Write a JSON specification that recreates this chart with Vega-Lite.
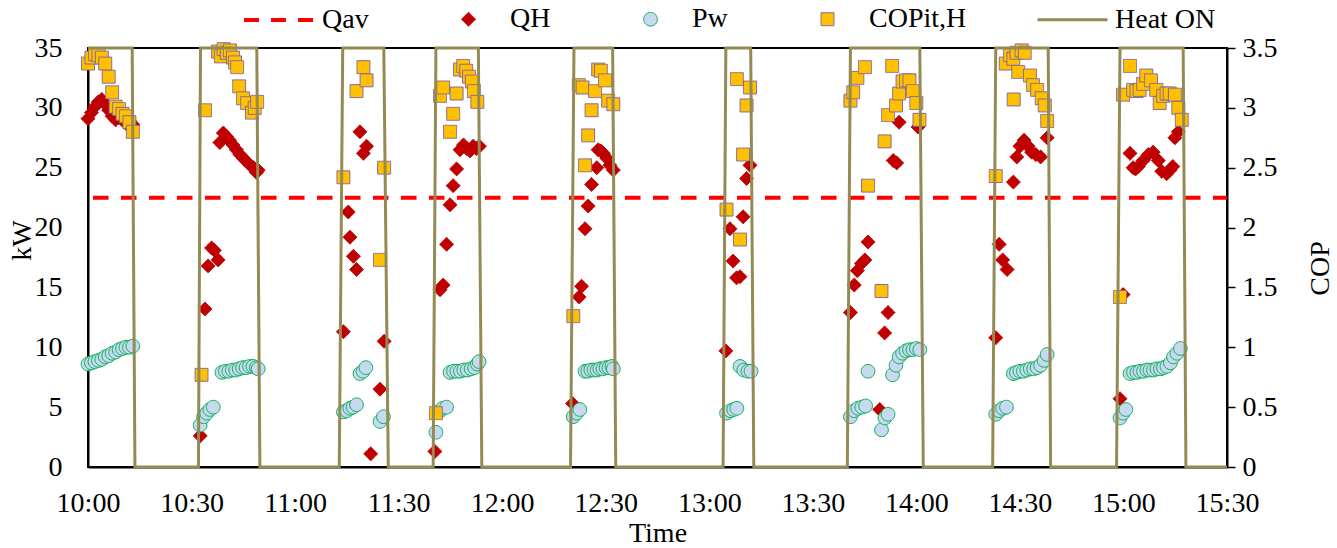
{
  "$schema": "https://vega.github.io/schema/vega-lite/v6.json",
  "width": 1139,
  "height": 419,
  "autosize": {"type": "none"},
  "padding": {"left": 88, "top": 48, "right": 110, "bottom": 81},
  "background": "white",
  "config": {
    "font": "Liberation Serif",
    "view": {"stroke": "black", "strokeWidth": 2},
    "axis": {
      "grid": false,
      "zindex": 0,
      "labelFont": "Liberation Serif",
      "titleFont": "Liberation Serif",
      "labelFontSize": 28,
      "titleFontSize": 28,
      "labelColor": "black",
      "titleColor": "black",
      "titleFontWeight": "normal",
      "domainColor": "black",
      "domainWidth": 2,
      "tickColor": "black",
      "tickWidth": 1.5
    },
    "legend": {"symbolSize": 4900, "labelFont": "Liberation Serif", "labelFontSize": 28, "labelColor": "black", "labelOffset": 6, "columnPadding": 64, "symbolOpacity": 1}
  },
  "data": {
    "values": [
      {"s": "Qav", "t": 0, "v": 22.5}, {"s": "Qav", "t": 330, "v": 22.5},

      {"s": "Heat ON", "t": 0, "v": 3.5}, {"s": "Heat ON", "t": 12.8, "v": 3.5}, {"s": "Heat ON", "t": 13.6, "v": 0},
      {"s": "Heat ON", "t": 32.0, "v": 0}, {"s": "Heat ON", "t": 32.6, "v": 3.5}, {"s": "Heat ON", "t": 48.9, "v": 3.5}, {"s": "Heat ON", "t": 49.8, "v": 0},
      {"s": "Heat ON", "t": 72.8, "v": 0}, {"s": "Heat ON", "t": 73.8, "v": 3.5}, {"s": "Heat ON", "t": 85.7, "v": 3.5}, {"s": "Heat ON", "t": 87.0, "v": 0},
      {"s": "Heat ON", "t": 100.0, "v": 0}, {"s": "Heat ON", "t": 100.8, "v": 3.5}, {"s": "Heat ON", "t": 113.1, "v": 3.5}, {"s": "Heat ON", "t": 114.1, "v": 0},
      {"s": "Heat ON", "t": 139.8, "v": 0}, {"s": "Heat ON", "t": 140.8, "v": 3.5}, {"s": "Heat ON", "t": 152.0, "v": 3.5}, {"s": "Heat ON", "t": 152.9, "v": 0},
      {"s": "Heat ON", "t": 184.0, "v": 0}, {"s": "Heat ON", "t": 184.8, "v": 3.5}, {"s": "Heat ON", "t": 192.0, "v": 3.5}, {"s": "Heat ON", "t": 192.9, "v": 0},
      {"s": "Heat ON", "t": 220.0, "v": 0}, {"s": "Heat ON", "t": 220.9, "v": 3.5}, {"s": "Heat ON", "t": 241.0, "v": 3.5}, {"s": "Heat ON", "t": 242.0, "v": 0},
      {"s": "Heat ON", "t": 262.1, "v": 0}, {"s": "Heat ON", "t": 263.0, "v": 3.5}, {"s": "Heat ON", "t": 278.2, "v": 3.5}, {"s": "Heat ON", "t": 278.9, "v": 0},
      {"s": "Heat ON", "t": 298.0, "v": 0}, {"s": "Heat ON", "t": 299.0, "v": 3.5}, {"s": "Heat ON", "t": 317.3, "v": 3.5}, {"s": "Heat ON", "t": 318.1, "v": 0},
      {"s": "Heat ON", "t": 330, "v": 0},

      {"s": "QH", "t": 0, "v": 29.1}, {"s": "QH", "t": 1, "v": 29.6}, {"s": "QH", "t": 2, "v": 30.1}, {"s": "QH", "t": 3, "v": 30.5},
      {"s": "QH", "t": 4, "v": 30.7}, {"s": "QH", "t": 5, "v": 30.3}, {"s": "QH", "t": 6, "v": 29.8}, {"s": "QH", "t": 7, "v": 29.3},
      {"s": "QH", "t": 8, "v": 29.0}, {"s": "QH", "t": 9, "v": 29.2}, {"s": "QH", "t": 10, "v": 29.0}, {"s": "QH", "t": 11, "v": 28.7},
      {"s": "QH", "t": 12, "v": 28.9}, {"s": "QH", "t": 13, "v": 28.6},
      {"s": "QH", "t": 32.5, "v": 2.6}, {"s": "QH", "t": 33.9, "v": 13.2}, {"s": "QH", "t": 34.8, "v": 16.8}, {"s": "QH", "t": 35.8, "v": 18.3},
      {"s": "QH", "t": 36.6, "v": 18.1}, {"s": "QH", "t": 37.7, "v": 17.3}, {"s": "QH", "t": 38.2, "v": 27.1}, {"s": "QH", "t": 39.2, "v": 27.9},
      {"s": "QH", "t": 40.1, "v": 27.6}, {"s": "QH", "t": 41.0, "v": 27.3}, {"s": "QH", "t": 42.0, "v": 26.9}, {"s": "QH", "t": 43.0, "v": 26.5},
      {"s": "QH", "t": 44.0, "v": 26.1}, {"s": "QH", "t": 45.0, "v": 25.8}, {"s": "QH", "t": 46.0, "v": 25.5}, {"s": "QH", "t": 47.0, "v": 25.2},
      {"s": "QH", "t": 48.0, "v": 25.0}, {"s": "QH", "t": 48.8, "v": 24.6}, {"s": "QH", "t": 49.3, "v": 24.8},
      {"s": "QH", "t": 74.0, "v": 11.3}, {"s": "QH", "t": 75.4, "v": 21.3}, {"s": "QH", "t": 75.9, "v": 19.2}, {"s": "QH", "t": 76.9, "v": 17.6},
      {"s": "QH", "t": 77.8, "v": 16.5}, {"s": "QH", "t": 78.8, "v": 28.0}, {"s": "QH", "t": 79.8, "v": 26.2}, {"s": "QH", "t": 80.7, "v": 26.8},
      {"s": "QH", "t": 81.9, "v": 1.1}, {"s": "QH", "t": 84.6, "v": 6.5}, {"s": "QH", "t": 85.8, "v": 10.5},
      {"s": "QH", "t": 100.5, "v": 1.3}, {"s": "QH", "t": 102.0, "v": 14.8}, {"s": "QH", "t": 102.9, "v": 15.2}, {"s": "QH", "t": 103.9, "v": 18.6},
      {"s": "QH", "t": 104.9, "v": 21.9}, {"s": "QH", "t": 105.8, "v": 23.5}, {"s": "QH", "t": 106.8, "v": 24.9}, {"s": "QH", "t": 107.8, "v": 26.5},
      {"s": "QH", "t": 108.8, "v": 26.9}, {"s": "QH", "t": 109.7, "v": 26.6}, {"s": "QH", "t": 110.7, "v": 26.4}, {"s": "QH", "t": 111.6, "v": 26.8},
      {"s": "QH", "t": 112.5, "v": 26.6}, {"s": "QH", "t": 113.4, "v": 26.8},
      {"s": "QH", "t": 140.4, "v": 5.3}, {"s": "QH", "t": 142.3, "v": 14.2}, {"s": "QH", "t": 143.0, "v": 15.1}, {"s": "QH", "t": 144.0, "v": 19.9},
      {"s": "QH", "t": 144.9, "v": 21.8}, {"s": "QH", "t": 145.9, "v": 23.6}, {"s": "QH", "t": 147.4, "v": 25.0}, {"s": "QH", "t": 147.8, "v": 26.5},
      {"s": "QH", "t": 148.6, "v": 26.4}, {"s": "QH", "t": 149.3, "v": 26.2}, {"s": "QH", "t": 150.3, "v": 25.8}, {"s": "QH", "t": 151.2, "v": 25.2},
      {"s": "QH", "t": 152.2, "v": 24.8},
      {"s": "QH", "t": 184.8, "v": 9.7}, {"s": "QH", "t": 186.0, "v": 19.9}, {"s": "QH", "t": 186.9, "v": 17.2}, {"s": "QH", "t": 187.9, "v": 15.8},
      {"s": "QH", "t": 188.9, "v": 15.9}, {"s": "QH", "t": 189.8, "v": 20.9}, {"s": "QH", "t": 190.8, "v": 24.1}, {"s": "QH", "t": 191.8, "v": 25.2},
      {"s": "QH", "t": 220.9, "v": 12.9}, {"s": "QH", "t": 222.0, "v": 15.2}, {"s": "QH", "t": 222.9, "v": 16.4}, {"s": "QH", "t": 224.1, "v": 17.0},
      {"s": "QH", "t": 225.1, "v": 17.3}, {"s": "QH", "t": 226.0, "v": 18.8}, {"s": "QH", "t": 229.4, "v": 4.8}, {"s": "QH", "t": 230.8, "v": 11.2},
      {"s": "QH", "t": 231.8, "v": 12.9}, {"s": "QH", "t": 233.3, "v": 25.6}, {"s": "QH", "t": 234.3, "v": 25.4}, {"s": "QH", "t": 235.0, "v": 28.8},
      {"s": "QH", "t": 240.5, "v": 28.4},
      {"s": "QH", "t": 263.0, "v": 10.8}, {"s": "QH", "t": 264.0, "v": 18.6}, {"s": "QH", "t": 265.0, "v": 17.3}, {"s": "QH", "t": 266.3, "v": 16.5},
      {"s": "QH", "t": 268.1, "v": 23.8}, {"s": "QH", "t": 269.1, "v": 25.9}, {"s": "QH", "t": 270.0, "v": 26.8}, {"s": "QH", "t": 271.2, "v": 27.3},
      {"s": "QH", "t": 272.4, "v": 26.8}, {"s": "QH", "t": 273.4, "v": 26.3}, {"s": "QH", "t": 274.6, "v": 26.1}, {"s": "QH", "t": 276.0, "v": 25.9},
      {"s": "QH", "t": 277.9, "v": 27.5},
      {"s": "QH", "t": 299.0, "v": 5.7}, {"s": "QH", "t": 299.9, "v": 14.4}, {"s": "QH", "t": 301.9, "v": 26.2}, {"s": "QH", "t": 302.8, "v": 25.0},
      {"s": "QH", "t": 303.5, "v": 24.9}, {"s": "QH", "t": 304.3, "v": 25.1}, {"s": "QH", "t": 305.7, "v": 25.6}, {"s": "QH", "t": 307.2, "v": 26.1},
      {"s": "QH", "t": 308.6, "v": 26.3}, {"s": "QH", "t": 310.1, "v": 25.6}, {"s": "QH", "t": 311.1, "v": 24.7}, {"s": "QH", "t": 312.5, "v": 24.5},
      {"s": "QH", "t": 313.5, "v": 24.8}, {"s": "QH", "t": 314.3, "v": 25.1}, {"s": "QH", "t": 314.9, "v": 27.5}, {"s": "QH", "t": 315.9, "v": 28.0},

      {"s": "Pw", "t": 0, "v": 8.6}, {"s": "Pw", "t": 1, "v": 8.7}, {"s": "Pw", "t": 2, "v": 8.8}, {"s": "Pw", "t": 3, "v": 8.9},
      {"s": "Pw", "t": 4, "v": 9.0}, {"s": "Pw", "t": 5, "v": 9.2}, {"s": "Pw", "t": 6, "v": 9.3}, {"s": "Pw", "t": 7, "v": 9.5},
      {"s": "Pw", "t": 8, "v": 9.6}, {"s": "Pw", "t": 9, "v": 9.8}, {"s": "Pw", "t": 10, "v": 9.9}, {"s": "Pw", "t": 11, "v": 10.0},
      {"s": "Pw", "t": 12, "v": 10.0}, {"s": "Pw", "t": 13, "v": 10.1},
      {"s": "Pw", "t": 32.5, "v": 3.5}, {"s": "Pw", "t": 33.5, "v": 4.2}, {"s": "Pw", "t": 34.4, "v": 4.5}, {"s": "Pw", "t": 35.3, "v": 4.8},
      {"s": "Pw", "t": 36.3, "v": 5.0}, {"s": "Pw", "t": 38.8, "v": 7.9}, {"s": "Pw", "t": 39.8, "v": 8.0}, {"s": "Pw", "t": 40.8, "v": 8.0},
      {"s": "Pw", "t": 41.8, "v": 8.1}, {"s": "Pw", "t": 42.8, "v": 8.1}, {"s": "Pw", "t": 43.8, "v": 8.2}, {"s": "Pw", "t": 44.8, "v": 8.3},
      {"s": "Pw", "t": 45.8, "v": 8.3}, {"s": "Pw", "t": 46.8, "v": 8.4}, {"s": "Pw", "t": 47.8, "v": 8.4}, {"s": "Pw", "t": 48.8, "v": 8.3},
      {"s": "Pw", "t": 49.3, "v": 8.2},
      {"s": "Pw", "t": 74.0, "v": 4.6}, {"s": "Pw", "t": 75.0, "v": 4.7}, {"s": "Pw", "t": 75.9, "v": 4.9}, {"s": "Pw", "t": 76.8, "v": 5.0},
      {"s": "Pw", "t": 77.8, "v": 5.2}, {"s": "Pw", "t": 78.8, "v": 7.8}, {"s": "Pw", "t": 79.7, "v": 8.0}, {"s": "Pw", "t": 80.5, "v": 8.3},
      {"s": "Pw", "t": 84.6, "v": 3.8}, {"s": "Pw", "t": 85.6, "v": 4.2},
      {"s": "Pw", "t": 100.8, "v": 2.9}, {"s": "Pw", "t": 102.0, "v": 4.7}, {"s": "Pw", "t": 102.8, "v": 4.9}, {"s": "Pw", "t": 103.9, "v": 5.0},
      {"s": "Pw", "t": 104.9, "v": 7.9}, {"s": "Pw", "t": 105.9, "v": 8.0}, {"s": "Pw", "t": 106.9, "v": 8.0}, {"s": "Pw", "t": 107.9, "v": 8.0},
      {"s": "Pw", "t": 108.9, "v": 8.1}, {"s": "Pw", "t": 109.9, "v": 8.1}, {"s": "Pw", "t": 111.0, "v": 8.2}, {"s": "Pw", "t": 112.0, "v": 8.3},
      {"s": "Pw", "t": 112.8, "v": 8.6}, {"s": "Pw", "t": 113.3, "v": 8.8},
      {"s": "Pw", "t": 140.6, "v": 4.2}, {"s": "Pw", "t": 141.6, "v": 4.5}, {"s": "Pw", "t": 142.5, "v": 4.8}, {"s": "Pw", "t": 144.0, "v": 8.0},
      {"s": "Pw", "t": 144.8, "v": 8.0}, {"s": "Pw", "t": 145.7, "v": 8.1}, {"s": "Pw", "t": 146.6, "v": 8.1}, {"s": "Pw", "t": 147.5, "v": 8.1},
      {"s": "Pw", "t": 148.3, "v": 8.2}, {"s": "Pw", "t": 149.2, "v": 8.2}, {"s": "Pw", "t": 150.1, "v": 8.3}, {"s": "Pw", "t": 150.9, "v": 8.3},
      {"s": "Pw", "t": 151.8, "v": 8.4}, {"s": "Pw", "t": 152.2, "v": 8.2},
      {"s": "Pw", "t": 185.0, "v": 4.5}, {"s": "Pw", "t": 186.1, "v": 4.7}, {"s": "Pw", "t": 187.1, "v": 4.8}, {"s": "Pw", "t": 188.0, "v": 4.9},
      {"s": "Pw", "t": 188.9, "v": 8.4}, {"s": "Pw", "t": 190.0, "v": 8.1}, {"s": "Pw", "t": 191.2, "v": 8.0}, {"s": "Pw", "t": 192.1, "v": 8.0},
      {"s": "Pw", "t": 220.9, "v": 4.2}, {"s": "Pw", "t": 222.0, "v": 4.7}, {"s": "Pw", "t": 223.1, "v": 4.9}, {"s": "Pw", "t": 224.2, "v": 5.0},
      {"s": "Pw", "t": 225.3, "v": 5.1}, {"s": "Pw", "t": 226.0, "v": 8.0}, {"s": "Pw", "t": 229.9, "v": 3.1}, {"s": "Pw", "t": 230.9, "v": 4.1},
      {"s": "Pw", "t": 231.8, "v": 4.4}, {"s": "Pw", "t": 233.1, "v": 7.7}, {"s": "Pw", "t": 234.1, "v": 8.5}, {"s": "Pw", "t": 235.0, "v": 9.2},
      {"s": "Pw", "t": 236.0, "v": 9.5}, {"s": "Pw", "t": 237.0, "v": 9.7}, {"s": "Pw", "t": 238.0, "v": 9.8}, {"s": "Pw", "t": 239.0, "v": 9.8},
      {"s": "Pw", "t": 240.0, "v": 9.9}, {"s": "Pw", "t": 241.0, "v": 9.8},
      {"s": "Pw", "t": 263.0, "v": 4.4}, {"s": "Pw", "t": 264.0, "v": 4.7}, {"s": "Pw", "t": 265.0, "v": 4.9}, {"s": "Pw", "t": 266.1, "v": 5.0},
      {"s": "Pw", "t": 268.1, "v": 7.8}, {"s": "Pw", "t": 269.0, "v": 7.9}, {"s": "Pw", "t": 270.0, "v": 8.0}, {"s": "Pw", "t": 271.0, "v": 8.0},
      {"s": "Pw", "t": 272.0, "v": 8.1}, {"s": "Pw", "t": 273.0, "v": 8.2}, {"s": "Pw", "t": 274.0, "v": 8.2}, {"s": "Pw", "t": 275.0, "v": 8.3},
      {"s": "Pw", "t": 276.0, "v": 8.5}, {"s": "Pw", "t": 277.0, "v": 8.9}, {"s": "Pw", "t": 277.9, "v": 9.4},
      {"s": "Pw", "t": 299.0, "v": 4.1}, {"s": "Pw", "t": 299.9, "v": 4.5}, {"s": "Pw", "t": 300.7, "v": 4.8}, {"s": "Pw", "t": 301.9, "v": 7.8},
      {"s": "Pw", "t": 302.9, "v": 7.9}, {"s": "Pw", "t": 303.9, "v": 7.9}, {"s": "Pw", "t": 304.8, "v": 8.0}, {"s": "Pw", "t": 305.8, "v": 8.0},
      {"s": "Pw", "t": 306.8, "v": 8.1}, {"s": "Pw", "t": 307.7, "v": 8.1}, {"s": "Pw", "t": 308.7, "v": 8.1}, {"s": "Pw", "t": 309.7, "v": 8.2},
      {"s": "Pw", "t": 310.7, "v": 8.2}, {"s": "Pw", "t": 311.6, "v": 8.3}, {"s": "Pw", "t": 312.6, "v": 8.4}, {"s": "Pw", "t": 313.6, "v": 8.7},
      {"s": "Pw", "t": 314.5, "v": 9.2}, {"s": "Pw", "t": 315.5, "v": 9.5}, {"s": "Pw", "t": 316.5, "v": 9.9},

      {"s": "COPit,H", "t": 0, "v": 3.37}, {"s": "COPit,H", "t": 1, "v": 3.42}, {"s": "COPit,H", "t": 2, "v": 3.45}, {"s": "COPit,H", "t": 3, "v": 3.44},
      {"s": "COPit,H", "t": 4, "v": 3.42}, {"s": "COPit,H", "t": 5, "v": 3.37}, {"s": "COPit,H", "t": 6, "v": 3.26}, {"s": "COPit,H", "t": 7, "v": 3.13},
      {"s": "COPit,H", "t": 8, "v": 3.01}, {"s": "COPit,H", "t": 9, "v": 2.99}, {"s": "COPit,H", "t": 10, "v": 2.95}, {"s": "COPit,H", "t": 11, "v": 2.93},
      {"s": "COPit,H", "t": 12, "v": 2.88}, {"s": "COPit,H", "t": 13, "v": 2.80},
      {"s": "COPit,H", "t": 32.9, "v": 0.77}, {"s": "COPit,H", "t": 33.9, "v": 2.98}, {"s": "COPit,H", "t": 37.7, "v": 3.47}, {"s": "COPit,H", "t": 38.5, "v": 3.43},
      {"s": "COPit,H", "t": 39.3, "v": 3.49}, {"s": "COPit,H", "t": 40.2, "v": 3.46}, {"s": "COPit,H", "t": 41.1, "v": 3.48}, {"s": "COPit,H", "t": 42.0, "v": 3.42},
      {"s": "COPit,H", "t": 42.6, "v": 3.38}, {"s": "COPit,H", "t": 43.2, "v": 3.34}, {"s": "COPit,H", "t": 43.8, "v": 3.18}, {"s": "COPit,H", "t": 44.9, "v": 3.08},
      {"s": "COPit,H", "t": 46.1, "v": 3.04}, {"s": "COPit,H", "t": 47.5, "v": 2.96}, {"s": "COPit,H", "t": 48.3, "v": 3.00}, {"s": "COPit,H", "t": 49.0, "v": 3.05},
      {"s": "COPit,H", "t": 74.0, "v": 2.42}, {"s": "COPit,H", "t": 77.8, "v": 3.14}, {"s": "COPit,H", "t": 79.8, "v": 3.34}, {"s": "COPit,H", "t": 80.7, "v": 3.23},
      {"s": "COPit,H", "t": 84.6, "v": 1.73}, {"s": "COPit,H", "t": 85.8, "v": 2.50},
      {"s": "COPit,H", "t": 100.8, "v": 0.45}, {"s": "COPit,H", "t": 102.0, "v": 3.10}, {"s": "COPit,H", "t": 102.9, "v": 3.17}, {"s": "COPit,H", "t": 104.9, "v": 2.80},
      {"s": "COPit,H", "t": 105.8, "v": 2.95}, {"s": "COPit,H", "t": 106.8, "v": 3.12}, {"s": "COPit,H", "t": 107.8, "v": 3.32}, {"s": "COPit,H", "t": 108.7, "v": 3.35},
      {"s": "COPit,H", "t": 109.6, "v": 3.31}, {"s": "COPit,H", "t": 110.4, "v": 3.26}, {"s": "COPit,H", "t": 111.2, "v": 3.22}, {"s": "COPit,H", "t": 111.8, "v": 3.14},
      {"s": "COPit,H", "t": 112.8, "v": 3.05},
      {"s": "COPit,H", "t": 140.6, "v": 1.26}, {"s": "COPit,H", "t": 142.2, "v": 3.19}, {"s": "COPit,H", "t": 143.3, "v": 3.17}, {"s": "COPit,H", "t": 144.0, "v": 2.52},
      {"s": "COPit,H", "t": 144.9, "v": 2.77}, {"s": "COPit,H", "t": 145.9, "v": 2.98}, {"s": "COPit,H", "t": 146.9, "v": 3.14}, {"s": "COPit,H", "t": 147.8, "v": 3.32},
      {"s": "COPit,H", "t": 148.6, "v": 3.31}, {"s": "COPit,H", "t": 149.8, "v": 3.23}, {"s": "COPit,H", "t": 150.7, "v": 3.06}, {"s": "COPit,H", "t": 152.2, "v": 3.03},
      {"s": "COPit,H", "t": 185.0, "v": 2.15}, {"s": "COPit,H", "t": 188.0, "v": 3.24}, {"s": "COPit,H", "t": 188.9, "v": 1.90}, {"s": "COPit,H", "t": 189.8, "v": 2.61},
      {"s": "COPit,H", "t": 190.8, "v": 3.02}, {"s": "COPit,H", "t": 191.8, "v": 3.17},
      {"s": "COPit,H", "t": 220.9, "v": 3.06}, {"s": "COPit,H", "t": 221.7, "v": 3.13}, {"s": "COPit,H", "t": 222.9, "v": 3.25}, {"s": "COPit,H", "t": 225.1, "v": 3.34},
      {"s": "COPit,H", "t": 226.0, "v": 2.35}, {"s": "COPit,H", "t": 229.9, "v": 1.47}, {"s": "COPit,H", "t": 230.8, "v": 2.72}, {"s": "COPit,H", "t": 231.8, "v": 2.94},
      {"s": "COPit,H", "t": 233.0, "v": 3.35}, {"s": "COPit,H", "t": 234.1, "v": 3.02}, {"s": "COPit,H", "t": 235.0, "v": 3.12}, {"s": "COPit,H", "t": 236.0, "v": 3.22},
      {"s": "COPit,H", "t": 237.0, "v": 3.23}, {"s": "COPit,H", "t": 238.0, "v": 3.23}, {"s": "COPit,H", "t": 239.0, "v": 3.14}, {"s": "COPit,H", "t": 240.0, "v": 3.04},
      {"s": "COPit,H", "t": 240.9, "v": 2.90},
      {"s": "COPit,H", "t": 263.0, "v": 2.43}, {"s": "COPit,H", "t": 265.9, "v": 3.37}, {"s": "COPit,H", "t": 267.1, "v": 3.44}, {"s": "COPit,H", "t": 268.1, "v": 3.41},
      {"s": "COPit,H", "t": 268.2, "v": 3.07}, {"s": "COPit,H", "t": 269.0, "v": 3.46}, {"s": "COPit,H", "t": 269.5, "v": 3.30}, {"s": "COPit,H", "t": 270.5, "v": 3.48},
      {"s": "COPit,H", "t": 271.4, "v": 3.46}, {"s": "COPit,H", "t": 272.9, "v": 3.27}, {"s": "COPit,H", "t": 273.8, "v": 3.19}, {"s": "COPit,H", "t": 275.0, "v": 3.15},
      {"s": "COPit,H", "t": 276.3, "v": 3.08}, {"s": "COPit,H", "t": 277.2, "v": 3.02}, {"s": "COPit,H", "t": 277.9, "v": 2.89},
      {"s": "COPit,H", "t": 299.0, "v": 1.42}, {"s": "COPit,H", "t": 299.9, "v": 3.11}, {"s": "COPit,H", "t": 301.9, "v": 3.35}, {"s": "COPit,H", "t": 302.8, "v": 3.15},
      {"s": "COPit,H", "t": 303.8, "v": 3.14}, {"s": "COPit,H", "t": 304.7, "v": 3.15}, {"s": "COPit,H", "t": 305.7, "v": 3.20}, {"s": "COPit,H", "t": 306.6, "v": 3.27},
      {"s": "COPit,H", "t": 308.0, "v": 3.23}, {"s": "COPit,H", "t": 309.5, "v": 3.15}, {"s": "COPit,H", "t": 310.5, "v": 3.04}, {"s": "COPit,H", "t": 311.5, "v": 3.10},
      {"s": "COPit,H", "t": 312.5, "v": 3.12}, {"s": "COPit,H", "t": 313.4, "v": 3.12}, {"s": "COPit,H", "t": 314.9, "v": 3.11}, {"s": "COPit,H", "t": 315.9, "v": 3.00},
      {"s": "COPit,H", "t": 316.9, "v": 2.90}
    ]
  },
  "layer": [
    {
      "layer": [
        {
          "transform": [{"filter": "datum.s === 'Qav'"}],
          "mark": {"type": "line", "color": "#FF0000", "strokeWidth": 4, "strokeDash": [15.5, 12.5], "strokeDashOffset": 23},
          "encoding": {
            "x": {"field": "t", "type": "quantitative", "scale": {"domain": [0, 330], "nice": false, "zero": false},
              "axis": {"values": [0, 30, 60, 90, 120, 150, 180, 210, 240, 270, 300, 330], "labelExpr": "(10 + floor(datum.value / 60)) + ':' + (datum.value % 60 == 0 ? '00' : '30')", "ticks": false, "labelPadding": 22, "labelFlush": false, "labelOverlap": false, "title": "Time", "titleY": 52}},
            "y": {"field": "v", "type": "quantitative", "scale": {"domain": [0, 35], "nice": false},
              "axis": {"values": [0, 5, 10, 15, 20, 25, 30, 35], "ticks": false, "labelPadding": 26, "title": "kW", "titleX": -66, "titleY": 192, "titleBaseline": "middle", "titleAngle": 270}}
          }
        },
        {
          "transform": [{"filter": "datum.s === 'QH'"}],
          "mark": {"type": "point", "size": 4900, "filled": true, "opacity": 1},
          "encoding": {
            "x": {"field": "t", "type": "quantitative", "scale": {"domain": [0, 330], "nice": false, "zero": false},
              "axis": {"values": [0, 30, 60, 90, 120, 150, 180, 210, 240, 270, 300, 330], "labelExpr": "(10 + floor(datum.value / 60)) + ':' + (datum.value % 60 == 0 ? '00' : '30')", "ticks": false, "labelPadding": 22, "labelFlush": false, "labelOverlap": false, "title": "Time", "titleY": 52}},
            "y": {"field": "v", "type": "quantitative", "scale": {"domain": [0, 35], "nice": false},
              "axis": {"values": [0, 5, 10, 15, 20, 25, 30, 35], "ticks": false, "labelPadding": 26, "title": "kW", "titleX": -66, "titleY": 192, "titleBaseline": "middle", "titleAngle": 270}},
            "fill": {"field": "s", "type": "nominal",
              "scale": {"domain": ["Qav", "QH", "Pw", "COPit,H", "Heat ON"], "range": ["transparent", "#C00000", "#C6D9F1", "#FFC000", "transparent"]},
              "legend": {"orient": "none", "legendX": 154, "legendY": -65, "direction": "horizontal", "title": null, "symbolSize": 4900, "labelOffset": 6, "columnPadding": 64, "labelLimit": 300}},
            "stroke": {"field": "s", "type": "nominal",
              "scale": {"domain": ["Qav", "QH", "Pw", "COPit,H", "Heat ON"], "range": ["#FF0000", "#C00000", "#00B050", "#8064A2", "#948A54"]}},
            "shape": {"field": "s", "type": "nominal",
              "scale": {"domain": ["Qav", "QH", "Pw", "COPit,H", "Heat ON"], "range": ["M-1,0L1,0", "M-0.2,0L0,-0.2L0.2,0L0,0.2Z", "M0.195,0A0.195,0.195,0,1,1,-0.195,0A0.195,0.195,0,1,1,0.195,0Z", "M-0.185,-0.185L0.185,-0.185L0.185,0.185L-0.185,0.185Z", "M-1,0L1,0"]}},
            "strokeWidth": {"field": "s", "type": "nominal",
              "scale": {"type": "ordinal", "domain": ["Qav", "QH", "Pw", "COPit,H", "Heat ON"], "range": [4, 1, 1, 1, 3]}},
            "strokeDash": {"field": "s", "type": "nominal",
              "scale": {"domain": ["Qav", "QH", "Pw", "COPit,H", "Heat ON"], "range": [[15, 12], [1, 0], [1, 0], [1, 0], [1, 0]]}}
          }
        },
        {
          "transform": [{"filter": "datum.s === 'Pw'"}],
          "mark": {"type": "point", "size": 4900, "filled": true, "opacity": 1},
          "encoding": {
            "x": {"field": "t", "type": "quantitative", "scale": {"domain": [0, 330], "nice": false, "zero": false},
              "axis": {"values": [0, 30, 60, 90, 120, 150, 180, 210, 240, 270, 300, 330], "labelExpr": "(10 + floor(datum.value / 60)) + ':' + (datum.value % 60 == 0 ? '00' : '30')", "ticks": false, "labelPadding": 22, "labelFlush": false, "labelOverlap": false, "title": "Time", "titleY": 52}},
            "y": {"field": "v", "type": "quantitative", "scale": {"domain": [0, 35], "nice": false},
              "axis": {"values": [0, 5, 10, 15, 20, 25, 30, 35], "ticks": false, "labelPadding": 26, "title": "kW", "titleX": -66, "titleY": 192, "titleBaseline": "middle", "titleAngle": 270}},
            "fill": {"field": "s", "type": "nominal",
              "scale": {"domain": ["Qav", "QH", "Pw", "COPit,H", "Heat ON"], "range": ["transparent", "#C00000", "#C6D9F1", "#FFC000", "transparent"]},
              "legend": {"orient": "none", "legendX": 154, "legendY": -65, "direction": "horizontal", "title": null, "symbolSize": 4900, "labelOffset": 6, "columnPadding": 64, "labelLimit": 300}},
            "stroke": {"field": "s", "type": "nominal",
              "scale": {"domain": ["Qav", "QH", "Pw", "COPit,H", "Heat ON"], "range": ["#FF0000", "#C00000", "#00B050", "#8064A2", "#948A54"]}},
            "shape": {"field": "s", "type": "nominal",
              "scale": {"domain": ["Qav", "QH", "Pw", "COPit,H", "Heat ON"], "range": ["M-1,0L1,0", "M-0.2,0L0,-0.2L0.2,0L0,0.2Z", "M0.195,0A0.195,0.195,0,1,1,-0.195,0A0.195,0.195,0,1,1,0.195,0Z", "M-0.185,-0.185L0.185,-0.185L0.185,0.185L-0.185,0.185Z", "M-1,0L1,0"]}},
            "strokeWidth": {"field": "s", "type": "nominal",
              "scale": {"type": "ordinal", "domain": ["Qav", "QH", "Pw", "COPit,H", "Heat ON"], "range": [4, 1, 1, 1, 3]}},
            "strokeDash": {"field": "s", "type": "nominal",
              "scale": {"domain": ["Qav", "QH", "Pw", "COPit,H", "Heat ON"], "range": [[15, 12], [1, 0], [1, 0], [1, 0], [1, 0]]}}
          }
        }
      ]
    },
    {
      "layer": [
        {
          "transform": [{"filter": "datum.s === 'COPit,H'"}],
          "mark": {"type": "point", "size": 4900, "filled": true, "opacity": 1},
          "encoding": {
            "x": {"field": "t", "type": "quantitative", "scale": {"domain": [0, 330], "nice": false, "zero": false},
              "axis": {"values": [0, 30, 60, 90, 120, 150, 180, 210, 240, 270, 300, 330], "labelExpr": "(10 + floor(datum.value / 60)) + ':' + (datum.value % 60 == 0 ? '00' : '30')", "ticks": false, "labelPadding": 22, "labelFlush": false, "labelOverlap": false, "title": "Time", "titleY": 52}},
            "y": {"field": "v", "type": "quantitative", "scale": {"domain": [0, 3.5], "nice": false},
              "axis": {"orient": "right", "values": [0, 0.5, 1, 1.5, 2, 2.5, 3, 3.5], "format": "~g", "tickSize": 8, "labelPadding": 7, "title": "COP", "titleX": 93, "titleY": 220, "titleBaseline": "middle", "titleAngle": 270}},
            "fill": {"field": "s", "type": "nominal",
              "scale": {"domain": ["Qav", "QH", "Pw", "COPit,H", "Heat ON"], "range": ["transparent", "#C00000", "#C6D9F1", "#FFC000", "transparent"]},
              "legend": {"orient": "none", "legendX": 154, "legendY": -65, "direction": "horizontal", "title": null, "symbolSize": 4900, "labelOffset": 6, "columnPadding": 64, "labelLimit": 300}},
            "stroke": {"field": "s", "type": "nominal",
              "scale": {"domain": ["Qav", "QH", "Pw", "COPit,H", "Heat ON"], "range": ["#FF0000", "#C00000", "#00B050", "#8064A2", "#948A54"]}},
            "shape": {"field": "s", "type": "nominal",
              "scale": {"domain": ["Qav", "QH", "Pw", "COPit,H", "Heat ON"], "range": ["M-1,0L1,0", "M-0.2,0L0,-0.2L0.2,0L0,0.2Z", "M0.195,0A0.195,0.195,0,1,1,-0.195,0A0.195,0.195,0,1,1,0.195,0Z", "M-0.185,-0.185L0.185,-0.185L0.185,0.185L-0.185,0.185Z", "M-1,0L1,0"]}},
            "strokeWidth": {"field": "s", "type": "nominal",
              "scale": {"type": "ordinal", "domain": ["Qav", "QH", "Pw", "COPit,H", "Heat ON"], "range": [4, 1, 1, 1, 3]}},
            "strokeDash": {"field": "s", "type": "nominal",
              "scale": {"domain": ["Qav", "QH", "Pw", "COPit,H", "Heat ON"], "range": [[15, 12], [1, 0], [1, 0], [1, 0], [1, 0]]}}
          }
        },
        {
          "transform": [{"filter": "datum.s === 'Heat ON'"}],
          "mark": {"type": "line", "color": "#948A54", "strokeWidth": 3},
          "encoding": {
            "x": {"field": "t", "type": "quantitative", "scale": {"domain": [0, 330], "nice": false, "zero": false},
              "axis": {"values": [0, 30, 60, 90, 120, 150, 180, 210, 240, 270, 300, 330], "labelExpr": "(10 + floor(datum.value / 60)) + ':' + (datum.value % 60 == 0 ? '00' : '30')", "ticks": false, "labelPadding": 22, "labelFlush": false, "labelOverlap": false, "title": "Time", "titleY": 52}},
            "y": {"field": "v", "type": "quantitative", "scale": {"domain": [0, 3.5], "nice": false},
              "axis": {"orient": "right", "values": [0, 0.5, 1, 1.5, 2, 2.5, 3, 3.5], "format": "~g", "tickSize": 8, "labelPadding": 7, "title": "COP", "titleX": 93, "titleY": 220, "titleBaseline": "middle", "titleAngle": 270}}
          }
        }
      ]
    }
  ],
  "resolve": {"scale": {"y": "independent"}}
}
